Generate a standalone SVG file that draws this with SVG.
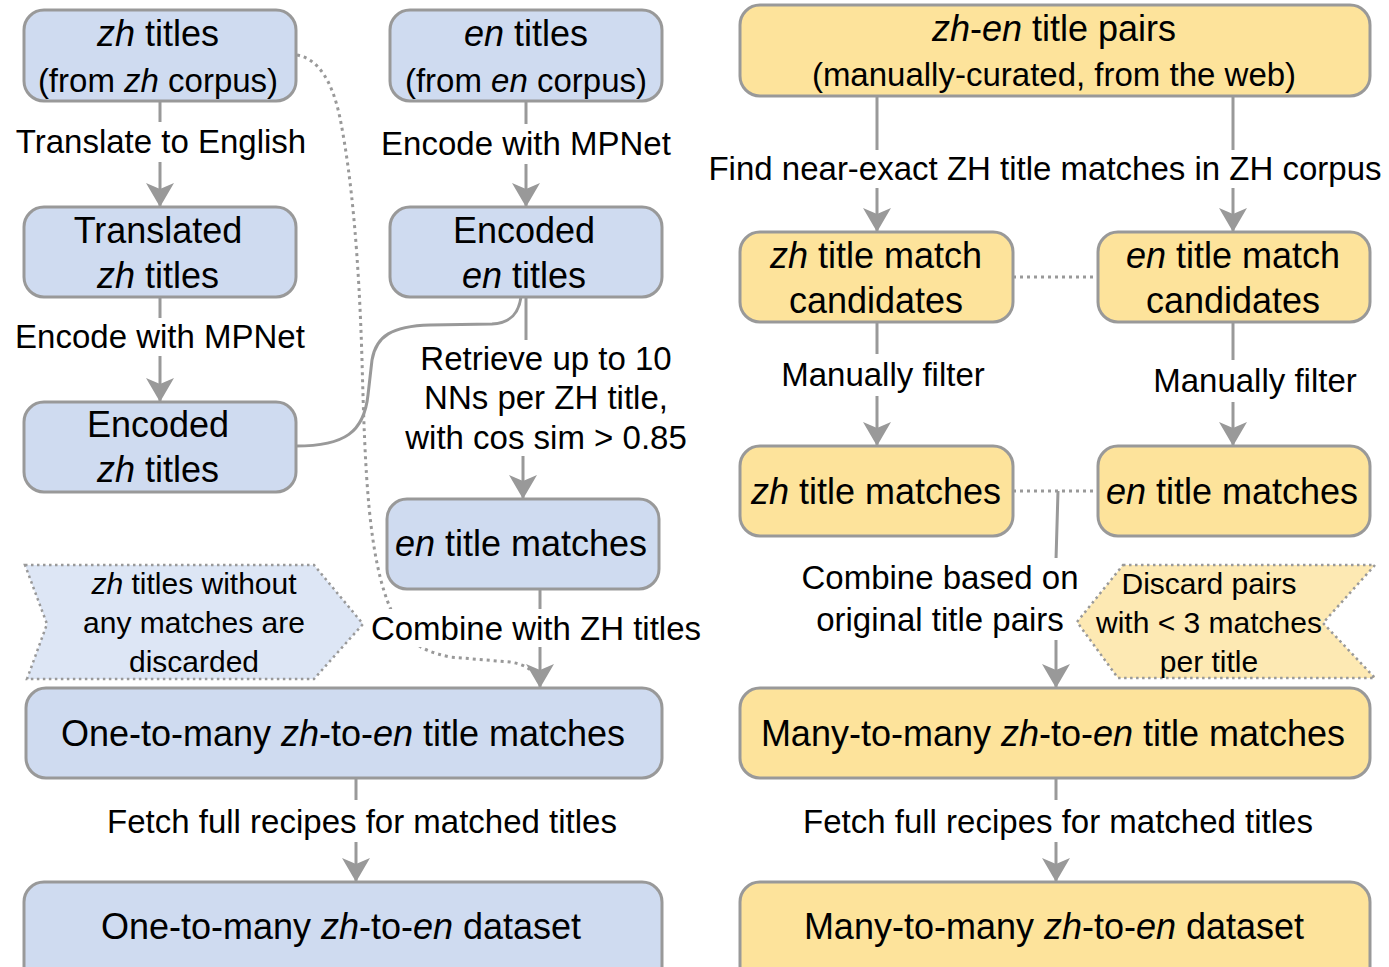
<svg xmlns="http://www.w3.org/2000/svg" width="1389" height="967" viewBox="0 0 1389 967">
<style>
text{font-family:"Liberation Sans",Arial,Helvetica,sans-serif;fill:#000;text-anchor:middle}
.n{font-size:36px}
.s{font-size:33px}
.l{font-size:33px}
.h{font-size:30px}
.i{font-style:italic}
.blue{fill:#cfdbf0;stroke:#999;stroke-width:3}
.yel{fill:#fde39b;stroke:#999;stroke-width:3}
.hb{fill:#dde6f5;stroke:#999;stroke-width:2.5;stroke-dasharray:2.5 3.5}
.hy{fill:#fde9b3;stroke:#999;stroke-width:2.5;stroke-dasharray:2.5 3.5}
.e{fill:none;stroke:#999;stroke-width:3}
.a{marker-end:url(#arr)}
.d{fill:none;stroke:#999;stroke-width:3;stroke-dasharray:3 4}
.bg{fill:#fff}
</style>
<defs>
<marker id="arr" markerUnits="userSpaceOnUse" markerWidth="24" markerHeight="28" viewBox="0 0 24 28" refX="23" refY="14" orient="auto">
<path d="M0,0 L24,14 L0,28 L6,14 z" fill="#999"/>
</marker>
</defs>
<rect width="1389" height="967" fill="#fff"/>

<g id="connectors">
<line class="e a" x1="160" y1="101" x2="160" y2="206"/>
<line class="e a" x1="526" y1="101" x2="526" y2="206"/>
<line class="e a" x1="160" y1="297" x2="160" y2="401"/>
<path class="e" d="M296,446 C345,446 364,432 368,395 L372,360 C376,336 392,326 430,325 L492,324 C512,323 519,312 521,297"/>
<path class="e a" d="M526,297 L526,345 M523,455 L523,498"/>
<path class="d" d="M297,55 C318,59 332,80 340,118 C352,178 359,260 362,360 C365,470 368,560 392,612 C405,640 418,650 450,657 L510,662 C528,665 536,672 539,684"/>
<line class="e a" x1="540" y1="589" x2="540" y2="687"/>
<line class="e a" x1="356" y1="778" x2="356" y2="881"/>
<line class="e a" x1="877" y1="96" x2="877" y2="231"/>
<line class="e a" x1="1233" y1="96" x2="1233" y2="231"/>
<line class="d" x1="1013" y1="277" x2="1098" y2="277"/>
<line class="e a" x1="877" y1="322" x2="877" y2="445"/>
<line class="e a" x1="1233" y1="322" x2="1233" y2="445"/>
<line class="d" x1="1013" y1="491" x2="1098" y2="491"/>
<path class="e a" d="M1058,491 L1056,560 L1056,687"/>
<line class="e a" x1="1056" y1="778" x2="1056" y2="881"/>
</g>

<g id="labels">
<rect class="bg" x="14" y="122" width="296" height="40"/>
<text class="l" x="161" y="153">Translate to English</text>
<rect class="bg" x="378" y="124" width="296" height="40"/>
<text class="l" x="526" y="155">Encode with MPNet</text>
<rect class="bg" x="12" y="318" width="296" height="38"/>
<text class="l" x="160" y="348">Encode with MPNet</text>
<rect class="bg" x="400" y="340" width="292" height="116"/>
<text class="l" x="546" y="370">Retrieve up to 10</text>
<text class="l" x="546" y="409">NNs per ZH title,</text>
<text class="l" x="546" y="449">with cos sim &gt; 0.85</text>
<rect class="bg" x="368" y="609" width="336" height="38"/>
<text class="l" x="536" y="640">Combine with ZH titles</text>
<rect class="bg" x="104" y="800" width="518" height="42"/>
<text class="l" x="362" y="833">Fetch full recipes for matched titles</text>
<rect class="bg" x="704" y="150" width="682" height="38"/>
<text class="l" x="1045" y="180">Find near-exact ZH title matches in ZH corpus</text>
<rect class="bg" x="778" y="354" width="210" height="42"/>
<text class="l" x="883" y="386">Manually filter</text>
<rect class="bg" x="1150" y="360" width="210" height="42"/>
<text class="l" x="1255" y="392">Manually filter</text>
<rect class="bg" x="798" y="558" width="270" height="82"/>
<text class="l" x="940" y="589">Combine based on</text>
<text class="l" x="940" y="631">original title pairs</text>
<rect class="bg" x="798" y="800" width="520" height="42"/>
<text class="l" x="1058" y="833">Fetch full recipes for matched titles</text>
</g>

<g id="zh-titles">
<rect class="blue" x="24" y="10" width="272" height="91" rx="20"/>
<text class="n" x="158" y="46"><tspan class="i">zh</tspan> titles</text>
<text class="s" x="158" y="92">(from <tspan class="i">zh</tspan> corpus)</text>
</g>
<g id="en-titles">
<rect class="blue" x="390" y="10" width="272" height="91" rx="20"/>
<text class="n" x="526" y="46"><tspan class="i">en</tspan> titles</text>
<text class="s" x="526" y="92">(from <tspan class="i">en</tspan> corpus)</text>
</g>
<g id="translated-zh">
<rect class="blue" x="24" y="207" width="272" height="90" rx="20"/>
<text class="n" x="158" y="243">Translated</text>
<text class="n" x="158" y="288"><tspan class="i">zh</tspan> titles</text>
</g>
<g id="encoded-en">
<rect class="blue" x="390" y="207" width="272" height="90" rx="20"/>
<text class="n" x="524" y="243">Encoded</text>
<text class="n" x="524" y="288"><tspan class="i">en</tspan> titles</text>
</g>
<g id="encoded-zh">
<rect class="blue" x="24" y="402" width="272" height="90" rx="20"/>
<text class="n" x="158" y="437">Encoded</text>
<text class="n" x="158" y="482"><tspan class="i">zh</tspan> titles</text>
</g>
<g id="en-title-matches-left">
<rect class="blue" x="387" y="499" width="272" height="90" rx="20"/>
<text class="n" x="521" y="556"><tspan class="i">en</tspan> title matches</text>
</g>
<g id="discard-left">
<polygon class="hb" points="25,565 314,565 363,624 314,679 27,679 47,624"/>
<text class="h" x="194" y="594"><tspan class="i">zh</tspan> titles without</text>
<text class="h" x="194" y="633">any matches are</text>
<text class="h" x="194" y="672">discarded</text>
</g>
<g id="one-to-many-matches">
<rect class="blue" x="26" y="688" width="636" height="90" rx="20"/>
<text class="n" x="343" y="746">One-to-many <tspan class="i">zh</tspan>-to-<tspan class="i">en</tspan> title matches</text>
</g>
<g id="one-to-many-dataset">
<rect class="blue" x="24" y="882" width="638" height="110" rx="20"/>
<text class="n" x="341" y="939">One-to-many <tspan class="i">zh</tspan>-to-<tspan class="i">en</tspan> dataset</text>
</g>

<g id="zh-en-pairs">
<rect class="yel" x="740" y="5" width="630" height="91" rx="20"/>
<text class="n" x="1054" y="41"><tspan class="i">zh</tspan>-<tspan class="i">en</tspan> title pairs</text>
<text class="s" x="1054" y="86">(manually-curated, from the web)</text>
</g>
<g id="zh-candidates">
<rect class="yel" x="740" y="232" width="273" height="90" rx="20"/>
<text class="n" x="876" y="268"><tspan class="i">zh</tspan> title match</text>
<text class="n" x="876" y="313">candidates</text>
</g>
<g id="en-candidates">
<rect class="yel" x="1098" y="232" width="272" height="90" rx="20"/>
<text class="n" x="1233" y="268"><tspan class="i">en</tspan> title match</text>
<text class="n" x="1233" y="313">candidates</text>
</g>
<g id="zh-matches">
<rect class="yel" x="740" y="446" width="273" height="90" rx="20"/>
<text class="n" x="876" y="504"><tspan class="i">zh</tspan> title matches</text>
</g>
<g id="en-matches">
<rect class="yel" x="1098" y="446" width="272" height="90" rx="20"/>
<text class="n" x="1232" y="504"><tspan class="i">en</tspan> title matches</text>
</g>
<g id="discard-right">
<polygon class="hy" points="1123,565 1375,565 1323,623 1375,678 1118,678 1077,622"/>
<text class="h" x="1209" y="594">Discard pairs</text>
<text class="h" x="1209" y="633">with &lt; 3 matches</text>
<text class="h" x="1209" y="672">per title</text>
</g>
<g id="many-to-many-matches">
<rect class="yel" x="740" y="688" width="630" height="90" rx="20"/>
<text class="n" x="1053" y="746">Many-to-many <tspan class="i">zh</tspan>-to-<tspan class="i">en</tspan> title matches</text>
</g>
<g id="many-to-many-dataset">
<rect class="yel" x="740" y="882" width="630" height="110" rx="20"/>
<text class="n" x="1054" y="939">Many-to-many <tspan class="i">zh</tspan>-to-<tspan class="i">en</tspan> dataset</text>
</g>
</svg>
